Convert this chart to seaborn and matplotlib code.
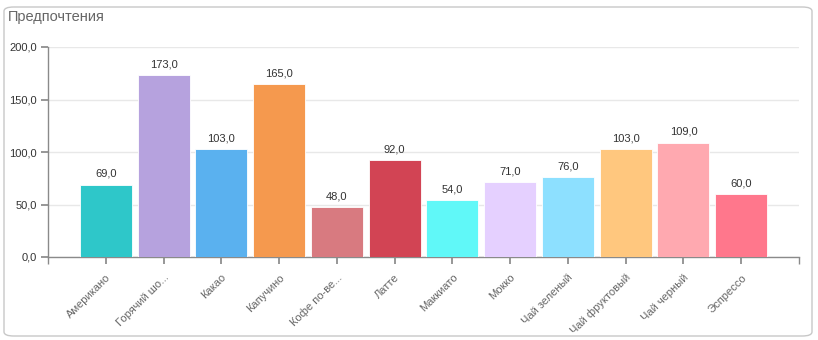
import matplotlib
matplotlib.use("Agg")
import matplotlib.pyplot as plt
import matplotlib.transforms as mtransforms
import seaborn as sns
import pandas as pd
from matplotlib.patches import FancyBboxPatch
from matplotlib.ticker import FuncFormatter, FixedLocator

categories = ["Американо", "Горячий шо...", "Какао", "Капучино", "Кофе по-ве...",
              "Латте", "Маккиато", "Мокко", "Чай зеленый", "Чай фруктовый",
              "Чай черный", "Эспрессо"]
values = [69, 173, 103, 165, 48, 92, 54, 71, 76, 103, 109, 60]
colors = ["#2EC7C9", "#B6A2DE", "#5AB1EF", "#F5994E", "#D87A80", "#D24454",
          "#60F8F8", "#E5D0FF", "#8DE0FF", "#FFC77E", "#FFA9B0", "#FF778C"]
y_ticks = [0, 50, 100, 150, 200]
title = "Предпочтения"

sns.set_theme(style="white")
plt.rcParams["font.family"] = ["Liberation Sans", "DejaVu Sans"]

W, H = 818, 340
fig = plt.figure(figsize=(W / 100, H / 100), dpi=100)
fig.patch.set_facecolor("white")

panel = FancyBboxPatch((4 / W, 4 / H), (812 - 4) / W, (333 - 4) / H,
                       boxstyle="round,pad=0,rounding_size=0.012",
                       transform=fig.transFigure, facecolor="none",
                       edgecolor="#c8c8c8", linewidth=1.0, zorder=-1)
fig.patches.append(panel)
fig.text(8 / W, 1 - 17 / H, title, fontsize=10.5, color="#666666", va="center", ha="left")

ax = fig.add_axes([48 / W, (H - 257) / H, (799 - 48) / W, (257 - 47) / H])
ax.set_facecolor("none")

df = pd.DataFrame({"cat": categories, "val": values})
sns.barplot(data=df, x="cat", y="val", hue="cat", palette=colors, legend=False,
            width=0.9, ax=ax, saturation=1, edgecolor="white", linewidth=0.6, zorder=3)

for c in ax.containers:
    ax.bar_label(c, labels=[f"{v:.1f}".replace(".", ",") for v in c.datavalues],
                 padding=4, fontsize=8, color="#333333")

ax.set_xlim(-1, 12)
ax.set_ylim(0, 200)
ax.set_yticks(y_ticks)
ax.yaxis.set_major_formatter(FuncFormatter(lambda v, p: f"{v:.1f}".replace(".", ",")))
ax.grid(axis="y", color="#e8e8e8", linewidth=1, zorder=0)
ax.set_axisbelow(True)
ax.set_xlabel("")
ax.set_ylabel("")

for s in ["top", "right"]:
    ax.spines[s].set_visible(False)
for s in ["left", "bottom"]:
    ax.spines[s].set_color("#8a8a8a")
    ax.spines[s].set_linewidth(1)

ax.set_xticks(range(len(categories)))
ax.set_xticklabels(categories, rotation=45, ha="right", va="top", rotation_mode="anchor",
                   fontsize=8, color="#666666")
offset = mtransforms.ScaledTranslation(5 / 100, 2 / 100, fig.dpi_scale_trans)
for lbl in ax.get_xticklabels():
    lbl.set_transform(lbl.get_transform() + offset)
ax.xaxis.set_minor_locator(FixedLocator([-1, 12]))
ax.tick_params(axis="x", which="both", length=5, color="#8a8a8a", direction="out",
               bottom=True, pad=6)
ax.tick_params(axis="y", length=5, color="#8a8a8a", direction="out", left=True,
               labelsize=8, labelcolor="#333333", pad=3)

fig.savefig("out.png", dpi=100, facecolor="white")
